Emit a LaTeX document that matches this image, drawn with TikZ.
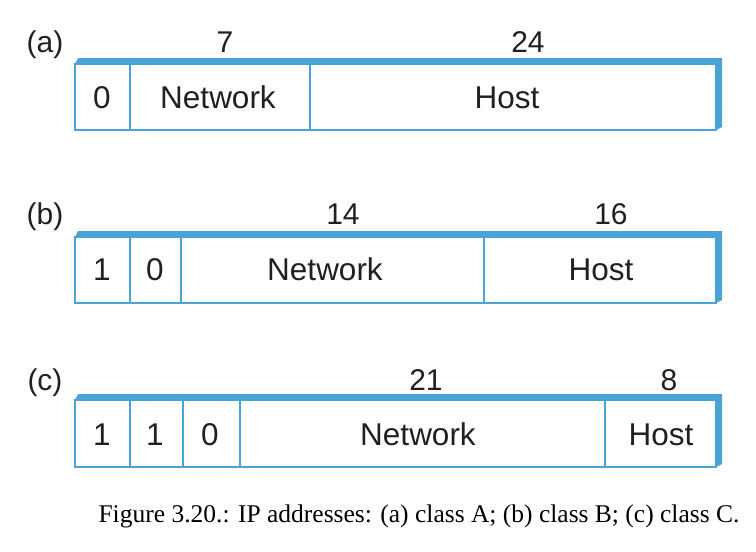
\documentclass[tikz,border=0pt]{standalone}
\usepackage{fontspec}
\setmainfont{Liberation Sans}
\newfontfamily\capfont{Liberation Serif}
\definecolor{boxblue}{HTML}{4AA3D6}
\definecolor{ink}{HTML}{231F20}

\begin{document}
\begin{tikzpicture}[x=1pt,y=-1pt,
  field/.style={draw=boxblue,line width=1.6pt},
  rim/.style={fill=boxblue},
  cell/.style={anchor=base,text=ink,font=\fontsize{31.5}{31.5}\selectfont},
  bits/.style={anchor=base,text=ink,font=\fontsize{30}{30}\selectfont}]
\useasboundingbox (0,0) rectangle (756,552);

% (a) class A
\fill[rim] (75,64) -- (78,58) -- (722,58) -- (722,127) -- (716,130) -- (716,64) -- cycle;
\draw[field] (75,64) rectangle (716,130);
\draw[field] (130,64) -- (130,130);
\draw[field] (310,64) -- (310,130);
\node[bits] (la) at (45,52) {(a)};
\node[bits] (wa1) at (225,52) {7};
\node[bits] (wa2) at (528,52) {24};
\node[cell] (a0) at (102,108) {0};
\node[cell] (anet) at (218,108) {Network};
\node[cell] (ahost) at (507,108) {Host};

% (b) class B
\fill[rim] (75,237) -- (78,231) -- (722,231) -- (722,300) -- (716,303) -- (716,237) -- cycle;
\draw[field] (75,237) rectangle (716,303);
\draw[field] (130,237) -- (130,303);
\draw[field] (181,237) -- (181,303);
\draw[field] (484,237) -- (484,303);
\node[bits] (lb) at (45,224) {(b)};
\node[bits] (wb1) at (343,224) {14};
\node[bits] (wb2) at (611,224) {16};
\node[cell] (b1) at (102,280) {1};
\node[cell] (b2) at (155,280) {0};
\node[cell] (bnet) at (325,280) {Network};
\node[cell] (bhost) at (601,280) {Host};

% (c) class C
\fill[rim] (75,400) -- (78,394) -- (722,394) -- (722,464) -- (716,467) -- (716,400) -- cycle;
\draw[field] (75,400) rectangle (716,467);
\draw[field] (130,400) -- (130,467);
\draw[field] (183,400) -- (183,467);
\draw[field] (240,400) -- (240,467);
\draw[field] (605,400) -- (605,467);
\node[bits] (lc) at (45,390) {(c)};
\node[bits] (wc1) at (426,390) {21};
\node[bits] (wc2) at (669,390) {8};
\node[cell] (c1) at (102,445) {1};
\node[cell] (c2) at (155,445) {1};
\node[cell] (c3) at (210,445) {0};
\node[cell] (cnet) at (418,445) {Network};
\node[cell] (chost) at (661,445) {Host};

% caption
\node[anchor=base,font=\capfont\fontsize{25.5}{25.5}\selectfont] (cap) at (419,522)
  {Figure 3.20.: IP addresses: (a) class A; (b) class B; (c) class C.};
\end{tikzpicture}
\end{document}
